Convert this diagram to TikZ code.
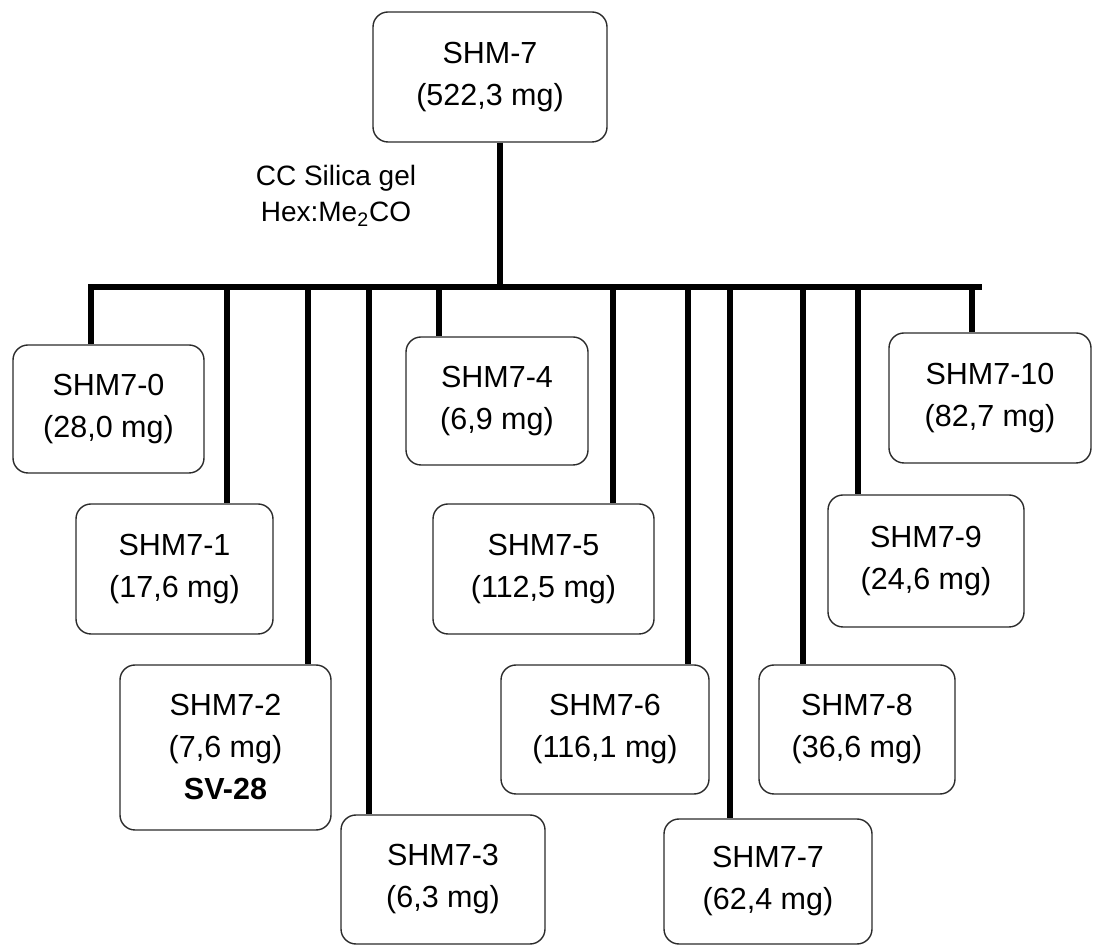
\documentclass[tikz,border=0pt]{standalone}
\usepackage{fontspec}
\setmainfont{Liberation Sans}
\usetikzlibrary{positioning}
\definecolor{edge}{HTML}{2B2B2B}
\tikzset{
  frac/.style={
    draw=edge, fill=white, rounded corners=7.5pt, line width=0.7pt,
    align=center, inner sep=0pt,
    font=\fontsize{15.25}{21}\selectfont
  },
  note/.style={align=center, font=\fontsize{14}{18}\selectfont},
  link/.style={line width=3.4pt, draw=black}
}

\begin{document}
\begin{tikzpicture}[x=0.5pt, y=-0.5pt]
    \useasboundingbox (0,0) rectangle (1093,945);
    \node[frac, minimum width=117pt, minimum height=65pt] (s7) at (490,77) {SHM-7\\(522,3 mg)};
    \node[note] (cc) at (336,196) {CC Silica gel\\Hex:Me\textsubscript{2}CO};
    \node[frac, minimum width=95.5pt, minimum height=64pt] (f0) at (108.5,409) {SHM7-0\\(28,0 mg)};
    \node[frac, minimum width=98.5pt, minimum height=65pt] (f1) at (174.5,569) {SHM7-1\\(17,6 mg)};
    \node[frac, minimum width=105.5pt, minimum height=82.5pt] (f2) at (225.5,747.5) {SHM7-2\\(7,6 mg)\\\textbf{SV-28}};
    \node[frac, minimum width=102pt, minimum height=64.5pt] (f3) at (443,879.5) {SHM7-3\\(6,3 mg)};
    \node[frac, minimum width=91pt, minimum height=64pt] (f4) at (497,401) {SHM7-4\\(6,9 mg)};
    \node[frac, minimum width=110.5pt, minimum height=65pt] (f5) at (543.5,569) {SHM7-5\\(112,5 mg)};
    \node[frac, minimum width=104pt, minimum height=64.5pt] (f6) at (605,729.5) {SHM7-6\\(116,1 mg)};
    \node[frac, minimum width=104pt, minimum height=62.5pt] (f7) at (768,881.5) {SHM7-7\\(62,4 mg)};
    \node[frac, minimum width=98pt, minimum height=64.5pt] (f8) at (857,729.5) {SHM7-8\\(36,6 mg)};
    \node[frac, minimum width=98pt, minimum height=66pt] (f9) at (926,561) {SHM7-9\\(24,6 mg)};
    \node[frac, minimum width=101pt, minimum height=65pt] (f10) at (990,398) {SHM7-10\\(82,7 mg)};

    \coordinate (hub) at (500,287);
    \coordinate (barL) at (88,287);
    \coordinate (barR) at (982,287);
    \coordinate (d0) at (91,287);
    \coordinate (d1) at (227,287);
    \coordinate (d2) at (308,287);
    \coordinate (d3) at (369,287);
    \coordinate (d4) at (439,287);
    \coordinate (d5) at (613,287);
    \coordinate (d6) at (688,287);
    \coordinate (d7) at (730,287);
    \coordinate (d8) at (803,287);
    \coordinate (d9) at (858,287);
    \coordinate (d10) at (972,287);

    \draw[link] (s7.south -| hub) -- (hub);
    \draw[link] (barL) -- (barR);
    \draw[link] (d0) -- (d0 |- f0.north);
    \draw[link] (d1) -- (d1 |- f1.north);
    \draw[link] (d2) -- (d2 |- f2.north);
    \draw[link] (d3) -- (d3 |- f3.north);
    \draw[link] (d4) -- (d4 |- f4.north);
    \draw[link] (d5) -- (d5 |- f5.north);
    \draw[link] (d6) -- (d6 |- f6.north);
    \draw[link] (d7) -- (d7 |- f7.north);
    \draw[link] (d8) -- (d8 |- f8.north);
    \draw[link] (d9) -- (d9 |- f9.north);
    \draw[link] (d10) -- (d10 |- f10.north);
  \end{tikzpicture}
\end{document}
